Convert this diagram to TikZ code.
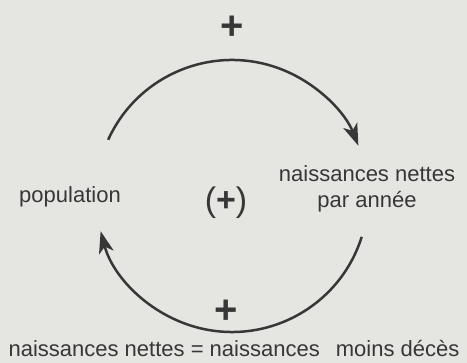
\documentclass[tikz,border=0pt]{standalone}
\usepackage{fontspec}
\setmainfont{Liberation Sans}
\usetikzlibrary{positioning, arrows.meta, calc}
\definecolor{paper}{RGB}{229,229,226}
\definecolor{ink}{RGB}{55,55,55}

\begin{document}
\begin{tikzpicture}[
        x=1pt, y=1pt,
        lbl/.style={inner sep=0pt, text=ink, font=\fontsize{22}{26}\selectfont, align=center},
        sign/.style={inner sep=0pt, text=ink, font=\fontsize{40}{40}\selectfont\bfseries},
        arrow/.style={-{Stealth[length=22pt, width=15pt, inset=6pt]}, line width=2.5pt, ink}
    ]
        \fill[paper] (0,0) rectangle (467,363);
        \useasboundingbox (0,0) rectangle (467,363);

        % Loop centre
        \coordinate (c) at (232,167);
        \coordinate (t_from) at ($(c)+(155.6:136)$);
        \coordinate (b_from) at ($(c)+(-17.5:136)$);

        % Variables
        \node[lbl, anchor=base] (pop) at (70,160) {population};
        \node[lbl] (nais) at (367,174) {naissances nettes\\par année};
        \node[inner sep=0pt, text=ink, font=\fontsize{34}{34}\selectfont] (loop) at (226,160) {(\textbf{+})};

        % Links
        \draw[arrow] (t_from) arc[start angle=155.6, end angle=21.7, radius=136];
        \draw[arrow] (b_from) arc[start angle=-17.5, end angle=-165, radius=136];

        % Signs
        \node[sign] (s_top) at (232,335) {+};
        \node[sign] (s_bot) at (226,51) {+};

        % Note
        \node[lbl, anchor=base] (note) at (234,6) {naissances nettes = naissances\hspace{10pt} moins décès};
    \end{tikzpicture}
\end{document}
